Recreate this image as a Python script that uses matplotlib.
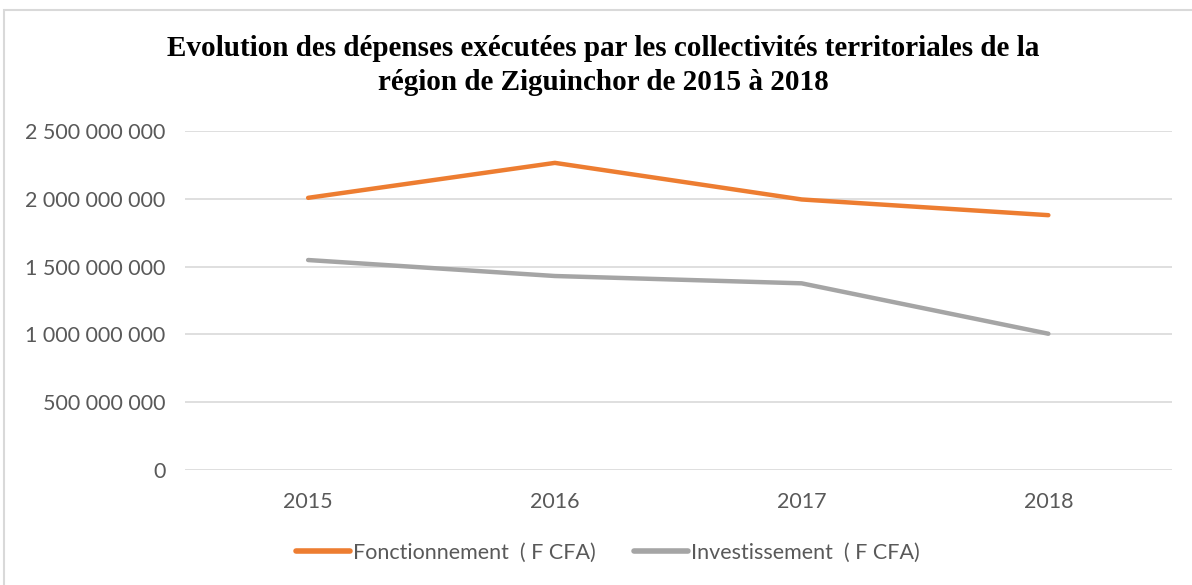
import matplotlib.pyplot as plt
from matplotlib.patches import Rectangle
from matplotlib.ticker import FuncFormatter

years = ['2015', '2016', '2017', '2018']
fonctionnement = [2007000000, 2265000000, 1995000000, 1879000000]
investissement = [1548000000, 1430000000, 1376000000, 1004000000]

plt.rcParams['font.family'] = ['Lato', 'DejaVu Sans']

fig = plt.figure(figsize=(11.92, 5.85), dpi=100)
ax = fig.add_axes([0.155, 0.197, 0.828, 0.579])

x = range(len(years))
ax.plot(x, fonctionnement, color='#ED7D31', lw=3.2, solid_capstyle='round',
        label='Fonctionnement  ( F CFA)')
ax.plot(x, investissement, color='#A5A5A5', lw=3.2, solid_capstyle='round',
        label='Investissement  ( F CFA)')

ax.set_xlim(-0.5, 3.5)
ax.set_ylim(0, 2500000000)
ax.set_yticks(range(0, 2500000001, 500000000))
ax.yaxis.set_major_formatter(FuncFormatter(lambda v, p: f'{int(v):,}'.replace(',', ' ')))
ax.set_xticks(list(x))
ax.set_xticklabels(years)
ax.grid(axis='y', color='#D9D9D9', lw=1.2)
ax.set_axisbelow(True)
for s in ax.spines.values():
    s.set_visible(False)
ax.tick_params(length=0, labelsize=15.5, labelcolor='#595959')
ax.tick_params(axis='y', pad=14)
ax.tick_params(axis='x', pad=16)

fig.text(0.506, 0.888,
         'Evolution des dépenses exécutées par les collectivités territoriales de la\n'
         'région de Ziguinchor de 2015 à 2018',
         ha='center', va='center', fontsize=21, fontweight='bold',
         family='Liberation Serif', linespacing=1.3)

leg = fig.legend(loc='center', bbox_to_anchor=(0.51, 0.055), ncol=2, frameon=False,
                 fontsize=15.5, handlelength=2.5, handletextpad=0.15, columnspacing=1.8)
for t in leg.get_texts():
    t.set_color('#595959')
for h in leg.legend_handles:
    h.set_linewidth(4)

# outer chart border
fig.patches.append(Rectangle((0.003, -0.1), 1.2, 1.083, transform=fig.transFigure,
                             fill=False, edgecolor='#D9D9D9', lw=1.5))

fig.savefig('out.png', dpi=100)
